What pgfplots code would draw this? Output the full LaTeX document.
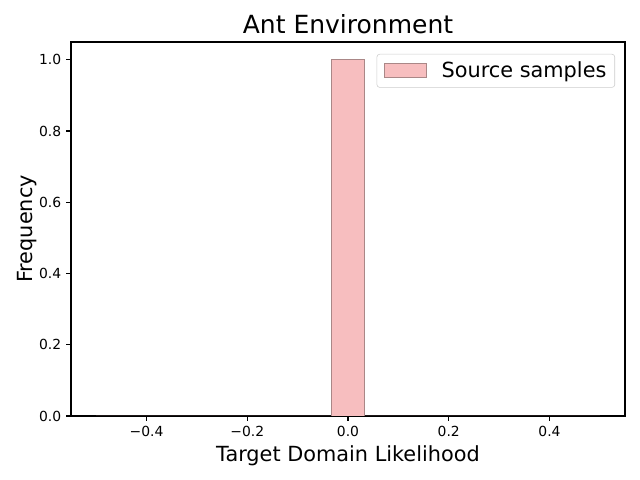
\documentclass[border=0pt]{standalone}
\usepackage{pgfplots}
\pgfplotsset{compat=1.18}
\usepackage{fontspec}
\setmainfont{DejaVu Sans}
\definecolor{barfill}{RGB}{247,190,191}
\definecolor{baredge}{RGB}{170,135,135}
\definecolor{legedge}{RGB}{204,204,204}

% histogram: 15 bins on [-0.5,0.5], all samples at 0
\pgfplotstableread{
edge count
-0.5000 0
-0.4333 0
-0.3667 0
-0.3000 0
-0.2333 0
-0.1667 0
-0.1000 0
-0.0333 1000000
0.0333 0
0.1000 0
0.1667 0
0.2333 0
0.3000 0
0.3667 0
0.4333 0
0.5000 0
}\histdata

\pgfplotsset{
    histlegend/.style={
        legend image code/.code={\draw[##1, sharp corners] (0pt,-5pt) rectangle (30pt,5pt);}
    }
}

\begin{document}
\begin{tikzpicture}
\useasboundingbox (-51.12pt,-46.08pt) rectangle (409.7pt,299.52pt);
\begin{axis}[
    scale only axis,
    width=398.9pt, height=269.3pt,
    xmin=-0.55, xmax=0.55,
    ymin=0, ymax=1050000,
    axis line style={line width=0.8pt},
    tick style={line width=0.8pt, black},
    tick align=outside,
    major tick length=3.5pt,
    xtick pos=bottom, ytick pos=left,
    xtick={-0.4,-0.2,0,0.2,0.4},
    xticklabels={−0.4,−0.2,0.0,0.2,0.4},
    ytick={0,200000,400000,600000,800000,1000000},
    yticklabels={0.0,0.2,0.4,0.6,0.8,1.0},
    scaled y ticks=false,
    tick label style={font=\fontsize{10}{12}\selectfont},
    title={Ant Environment},
    title style={font=\fontsize{18}{21}\selectfont, yshift=-4pt},
    xlabel={Target Domain Likelihood},
    ylabel={Frequency},
    label style={font=\fontsize{15}{18}\selectfont},
    ylabel style={yshift=-5pt},
    legend style={
        at={(0.982,0.968)}, anchor=north east,
        draw=legedge, rounded corners=2pt,
        font=\fontsize{15}{18}\selectfont,
        inner xsep=5pt, inner ysep=4.5pt,
        column sep=10pt,
        nodes={inner sep=1pt},
    },
    legend cell align=left,
]
\addplot[ybar interval, fill=barfill, draw=baredge, line width=0.6pt, histlegend]
    table[x=edge, y=count] {\histdata};
\addlegendentry{Source samples}
\node[anchor=south west, font=\fontsize{10}{12}\selectfont, inner sep=1pt]
    at (rel axis cs:0,1) {1e6};
\end{axis}
\end{tikzpicture}
\end{document}
